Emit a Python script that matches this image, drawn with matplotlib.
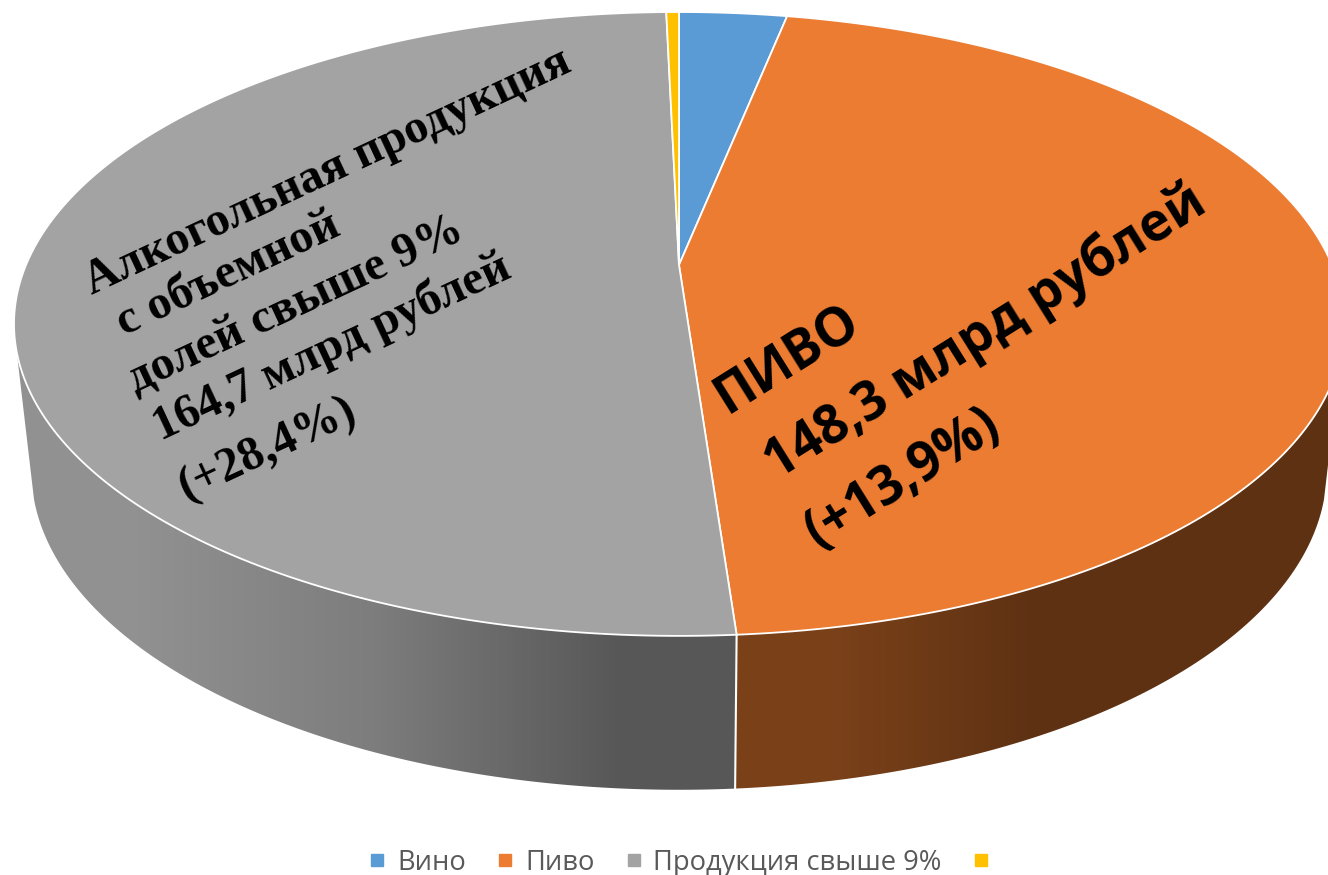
import numpy as np
from matplotlib import pyplot as plt
from matplotlib.lines import Line2D
from matplotlib.patches import Polygon

# млрд рублей, last slice has no name in the legend
names = ['Вино', 'Пиво', 'Продукция свыше 9%', '']
values = [10.2, 148.3, 164.7, 1.2]
colors = ['#5B9BD5', '#EB7C31', '#A3A3A3', '#FFC000']

left_lines = ['Алкогольная продукция', 'с объемной', 'долей свыше 9%', '164,7 млрд рублей', '(+28,4%)']
right_lines = ['ПИВО', '148,3 млрд рублей', '(+13,9%)']

my_dpi = 100
W, H = 1328, 875
CX = 679


def project(a, y0, r, rv, k=0.189):
    # a in degrees clockwise from 12 o'clock, simple perspective of a circle
    a = np.radians(a)
    s = 1 / (1 + k * np.cos(a))
    return np.column_stack([CX + r * np.sin(a) * s, y0 - rv * np.cos(a) * s])


def top(a):
    return project(a, 265, 653, 300.8)


def bottom(a):
    return project(a, 410, 636, 308)


def wall(ax, a1, a2, stops, xlim):
    aa = np.linspace(a1, a2, 120)
    pts = np.vstack([top(aa), bottom(aa)[::-1]])
    poly = Polygon(pts, closed=True, fc='none', ec='none')
    ax.add_patch(poly)
    grad = np.array([stops])
    im = ax.imshow(grad, extent=[xlim[0], xlim[1], H, 0], aspect='auto', interpolation='bilinear', zorder=1)
    im.set_clip_path(poly)


plt.figure(figsize=(W / my_dpi, H / my_dpi), dpi=my_dpi)
ax = plt.gca()
plt.subplots_adjust(left=0, right=1, top=1, bottom=0)

edges = np.cumsum([0] + values) / sum(values) * 360

# side walls, only the front part can be seen
gray = np.array([[0.57, 0.57, 0.57], [0.49, 0.49, 0.49], [0.345, 0.345, 0.345]])
brown = np.array([[0.48, 0.255, 0.10], [0.37, 0.195, 0.075], [0.37, 0.195, 0.075]])
wall(ax, edges[2], 254, gray, (15, 736))
wall(ax, edges[2], 106, brown, (736, 1328))

# edge lines of the wall
seam = np.vstack([top(edges[2]), bottom(edges[2])])
ax.plot(seam[:, 0], seam[:, 1], color='white', lw=1.5, zorder=2)

# top face
for i in range(len(values)):
    aa = np.linspace(edges[i], edges[i + 1], 200)
    pts = np.vstack([[[CX, 265]], top(aa)])
    ax.add_patch(Polygon(pts, closed=True, fc=colors[i], ec='white', lw=1.3, zorder=3))

for txt, x, y in zip(left_lines, [328, 228, 296, 332, 268], [172, 274, 305, 347, 450]):
    ax.text(x, y, txt, rotation=25, rotation_mode='anchor', ha='center', va='center',
            family='Liberation Serif', weight='bold', fontsize=34.5, color='black', zorder=5)

for txt, x, y in zip(right_lines, [788, 985, 903], [360, 332, 478]):
    ax.text(x, y, txt, rotation=32, rotation_mode='anchor', ha='center', va='center',
            family='Open Sans', weight='bold', fontsize=38, color='black', zorder=5)

handles = [Line2D([], [], ls='none', marker='s', ms=9, color=c) for c in colors]
ax.legend(handles, names, loc='center', bbox_to_anchor=(685 / W, 1 - 863 / H), ncol=4, frameon=False,
          prop={'family': 'Open Sans', 'size': 19.7}, labelcolor='#595959',
          handlelength=0.6, handletextpad=0.42, columnspacing=1.14, borderpad=0)

ax.set_xlim(0, W)
ax.set_ylim(H, 0)
ax.axis('off')
plt.savefig('out.png', dpi=my_dpi)
plt.close()
